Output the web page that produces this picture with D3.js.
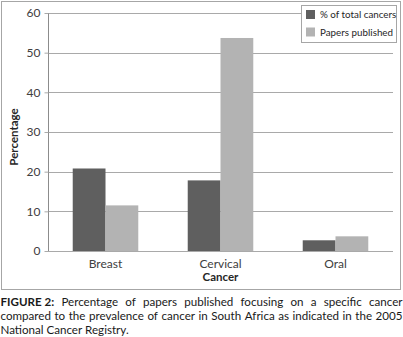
<!DOCTYPE html>
<html>
<head>
<meta charset="utf-8">
<script src="https://cdn.jsdelivr.net/npm/d3@7"></script>
<style>
  body { margin: 0; background: #fff; }
  svg { display: block; font-family: Lato, "Open Sans", sans-serif; }
</style>
</head>
<body>
<div id="chart-area"></div>
<script>
const categories = ["Breast", "Cervical", "Oral"];
const seriesNames = ["% of total cancers", "Papers published"];
const totalCancers = [20.8, 17.8, 2.7];
const papersPublished = [11.5, 53.7, 3.7];
const yTicks = [0, 10, 20, 30, 40, 50, 60];
const captionLines = [
    "Percentage of papers published focusing on a specific cancer",
    "compared to the prevalence of cancer in South Africa as indicated in the 2005",
    "National Cancer Registry."
];

const data = categories.map((c, i) => ({ name: c, values: [totalCancers[i], papersPublished[i]] }));

const width = 403;
const height = 337;
const margin = { left: 48, right: 10, top: 13, bottom: 86 };
const chartWidth = 393 - margin.left;
const chartHeight = 251 - margin.top;
const labelFont = 'Lato, "Open Sans", sans-serif';

const svg = d3.select('#chart-area')
    .append('svg')
    .attr("width", width)
    .attr("height", height);

// chart frame
svg.append('rect')
    .attr('x', 1.5).attr('y', 1.5)
    .attr('width', 399).attr('height', 288)
    .attr('fill', 'none')
    .attr('stroke', '#a6a6a6');

const g = svg.append('g')
    .attr("transform", "translate(" + margin.left + ", " + margin.top + ")");

const x = d3.scaleBand()
    .domain(categories)
    .range([0, chartWidth])
    .paddingInner(0.43)
    .paddingOuter(0.215);

const x1 = d3.scaleBand()
    .domain(seriesNames)
    .range([0, x.bandwidth()]);

const y = d3.scaleLinear()
    .domain([0, 60])
    .range([chartHeight, 0]);

const color = d3.scaleOrdinal()
    .domain(seriesNames)
    .range(["#5f5f5f", "#b3b3b3"]);

// gridlines
g.append('g')
    .selectAll('line')
    .data(yTicks)
    .enter()
    .append('line')
    .attr('x1', 0).attr('x2', chartWidth)
    .attr('y1', d => Math.round(y(d)) + 0.5)
    .attr('y2', d => Math.round(y(d)) + 0.5)
    .attr('stroke', '#a9a9a9');

// bars
g.selectAll('.group')
    .data(data)
    .enter()
    .append('g')
    .attr('class', 'group')
    .attr('transform', d => `translate(${x(d.name)}, 0)`)
    .selectAll('rect')
    .data(d => d.values.map((v, i) => ({ key: seriesNames[i], value: v })))
    .enter()
    .append('rect')
    .attr('x', d => x1(d.key))
    .attr('y', d => y(d.value))
    .attr('width', x1.bandwidth())
    .attr('height', d => chartHeight - y(d.value))
    .attr('fill', d => color(d.key));

// y axis
const yAxis = d3.axisLeft(y)
    .tickValues(yTicks)
    .tickSize(4)
    .tickPadding(4);
const ya = g.append('g')
    .attr('class', 'y axis')
    .attr('transform', 'translate(0.5, 0)')
    .call(yAxis);
ya.select('.domain').attr('stroke', '#8c8c8c').attr('d', `M0,${y(60)}V${chartHeight}`);
ya.selectAll('.tick line').attr('stroke', '#a9a9a9');
ya.selectAll('text')
    .attr('fill', '#404040')
    .style('font-size', '12px')
    .style('font-family', labelFont);

// x axis
const xAxis = d3.axisBottom(x).tickSize(0).tickPadding(8);
const xa = g.append('g')
    .attr('class', 'x axis')
    .attr('transform', `translate(0, ${chartHeight})`)
    .call(xAxis);
xa.select('.domain').remove();
xa.selectAll('text')
    .attr('fill', '#404040')
    .style('font-size', '12px')
    .style('font-family', labelFont);

// axis titles
svg.append('text')
    .attr('x', margin.left + chartWidth / 2)
    .attr('y', 281)
    .attr('text-anchor', 'middle')
    .attr('font-weight', 'bold')
    .attr('font-size', 11.5)
    .attr('fill', '#262626')
    .text("Cancer");

svg.append('text')
    .attr('x', -137)
    .attr('y', 18)
    .attr('transform', 'rotate(-90)')
    .attr('text-anchor', 'middle')
    .attr('font-weight', 'bold')
    .attr('font-size', 11.5)
    .attr('fill', '#262626')
    .text("Percentage");

// legend
const legend = svg.append('g').attr('transform', 'translate(301, 5)');
legend.append('rect')
    .attr('x', 0.5).attr('y', 0.5)
    .attr('width', 95).attr('height', 37)
    .attr('fill', '#fff')
    .attr('stroke', '#a6a6a6');
seriesNames.forEach((s, i) => {
    legend.append('rect')
        .attr('x', 5).attr('y', 5 + i * 17.5)
        .attr('width', 9).attr('height', 9)
        .attr('fill', color(s));
    legend.append('text')
        .attr('x', 19).attr('y', 13 + i * 17.5)
        .attr('font-size', 9.8)
        .attr('fill', '#262626')
        .text(s);
});

// caption, justified word by word
const capFont = 11.6;
captionLines.forEach((line, li) => {
    const yPos = 306 + li * 14;
    const words = line.split(' ');
    if (li === 0) words.unshift("FIGURE 2:");
    const justify = li < captionLines.length - 1;
    const nodes = words.map((w, wi) => svg.append('text')
        .attr('y', yPos)
        .attr('font-size', capFont)
        .attr('font-weight', (li === 0 && wi === 0) ? 'bold' : 'normal')
        .attr('fill', '#1a1a1a')
        .text(w));
    const widths = nodes.map(n => n.node().getComputedTextLength());
    const total = d3.sum(widths);
    const gap = justify ? (402 - total) / (words.length - 1) : capFont * 0.25;
    let cx = 0.5;
    nodes.forEach((n, i) => {
        n.attr('x', cx);
        cx += widths[i] + gap;
    });
});
</script>
</body>
</html>
